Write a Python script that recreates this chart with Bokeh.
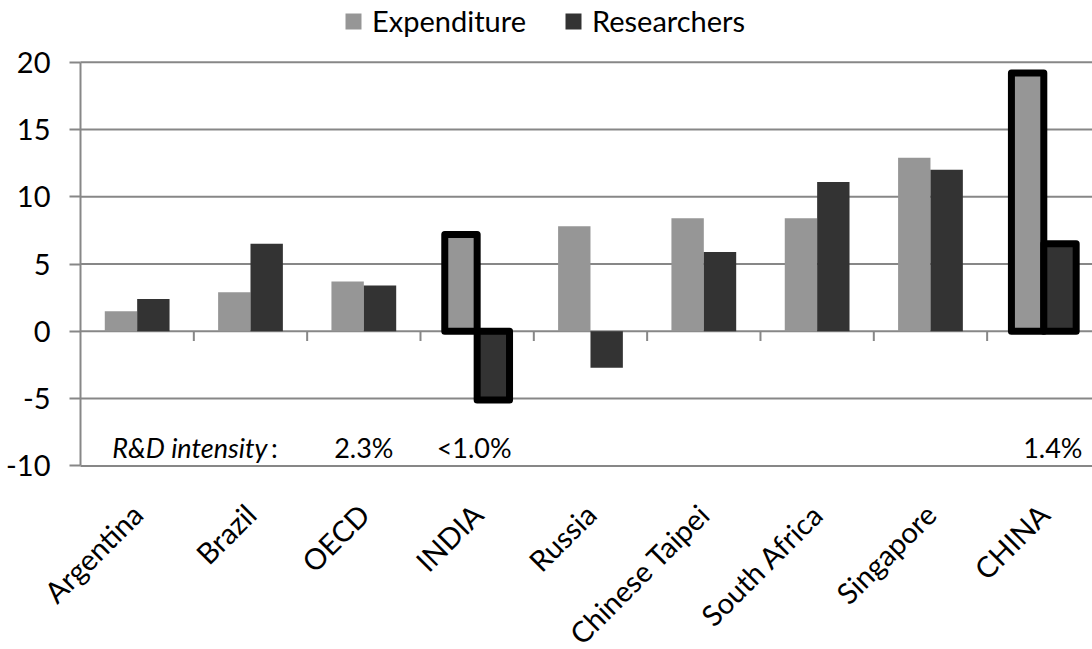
import numpy as np
from bokeh.plotting import figure
from bokeh.models import ColumnDataSource, Range1d, FixedTicker, Legend, LegendItem
from bokeh.core.properties import value
from bokeh.embed import file_html
from bokeh.resources import INLINE

# Growth figures per economy (percent)
categories = ["Argentina", "Brazil", "OECD", "INDIA", "Russia",
              "Chinese Taipei", "South Africa", "Singapore", "CHINA"]
expenditure = [1.5, 2.9, 3.7, 7.2, 7.8, 8.4, 8.4, 12.9, 19.2]
researchers = [2.4, 6.5, 3.4, -5.1, -2.7, 5.9, 11.1, 12.0, 6.5]
highlighted = ["INDIA", "CHINA"]
intensity_cats = ["OECD", "INDIA", "CHINA"]
intensity_vals = ["2.3%", "<1.0%", "1.4%"]
y_ticks = [-10, -5, 0, 5, 10, 15, 20]

FONT = "Lato"
GRID = "#878787"
EXP_COLOR = "#969696"
RES_COLOR = "#333333"

n = len(categories)
centers = np.arange(n) + 0.5
bar_w = 2 / 7  # 150% gap width

src = ColumnDataSource(dict(
    cat=categories,
    x_exp=centers - bar_w / 2,
    x_res=centers + bar_w / 2,
    exp=expenditure,
    res=researchers,
))
hi = [i for i, c in enumerate(categories) if c in highlighted]
hl = ColumnDataSource(dict(
    x_exp=[centers[i] - bar_w / 2 for i in hi],
    x_res=[centers[i] + bar_w / 2 for i in hi],
    exp=[expenditure[i] for i in hi],
    res=[researchers[i] for i in hi],
))

# The frame covers the whole canvas; both axes are pinned at fixed data
# locations so that labels, legend and notes share the same space.
p = figure(width=1092, height=649, output_backend="svg", toolbar_location=None,
           x_range=Range1d(-0.7059, 8.9297), y_range=Range1d(-23.64, 24.58),
           min_border_left=0, min_border_right=0,
           min_border_top=0, min_border_bottom=0)
p.outline_line_color = None
p.background_fill_color = "white"
p.border_fill_color = "white"
p.xgrid.grid_line_color = None
p.ygrid.grid_line_color = None

# horizontal gridlines across the category span
p.segment(x0=[0] * len(y_ticks), x1=[n] * len(y_ticks), y0=y_ticks, y1=y_ticks,
          line_color=GRID, line_width=2)

# value axis (plain hyphen for negatives)
p.yaxis.fixed_location = 0
p.yaxis.ticker = FixedTicker(ticks=y_ticks)
p.yaxis.bounds = (min(y_ticks), max(y_ticks))
p.yaxis.major_label_overrides = {t: str(t) for t in y_ticks}
p.yaxis.axis_line_color = GRID
p.yaxis.axis_line_width = 2
p.yaxis.major_tick_out = 11
p.yaxis.major_tick_in = 0
p.yaxis.major_tick_line_color = GRID
p.yaxis.major_tick_line_width = 2
p.yaxis.minor_tick_line_color = None
p.yaxis.major_label_text_font = FONT
p.yaxis.major_label_text_font_size = "29px"
p.yaxis.major_label_text_color = "black"
p.yaxis.major_label_standoff = 19

# category axis, labels rotated under the chart
p.xaxis.fixed_location = min(y_ticks)
p.xaxis.ticker = FixedTicker(ticks=list(centers))
p.xaxis.major_label_overrides = {float(c): cat for c, cat in zip(centers, categories)}
p.xaxis.major_label_orientation = np.pi / 4
p.xaxis.axis_line_color = None
p.xaxis.major_tick_line_color = None
p.xaxis.minor_tick_line_color = None
p.xaxis.major_label_text_font = FONT
p.xaxis.major_label_text_font_size = "29px"
p.xaxis.major_label_text_color = "black"
p.xaxis.major_label_standoff = 37

# category separators on the zero line
bounds = np.arange(1, n)
p.segment(x0=bounds, x1=bounds, y0=[0] * len(bounds), y1=[-0.72] * len(bounds),
          line_color=GRID, line_width=2)

r_exp = p.vbar(x="x_exp", top="exp", bottom=0, width=bar_w, source=src,
               fill_color=EXP_COLOR, line_color=None)
p.vbar(x="x_exp", top="exp", bottom=0, width=bar_w, source=hl,
       fill_color=EXP_COLOR, line_color="black", line_width=7, line_join="round")
r_res = p.vbar(x="x_res", top="res", bottom=0, width=bar_w, source=src,
               fill_color=RES_COLOR, line_color=None)
p.vbar(x="x_res", top="res", bottom=0, width=bar_w, source=hl,
       fill_color=RES_COLOR, line_color="black", line_width=7, line_join="round")

# R&D intensity annotations
p.text(x=[0.28], y=[-8.61], text=["R&D intensity"], text_font=value(FONT),
       text_font_style="italic", text_font_size="27px", text_color="black",
       text_align="left", text_baseline="alphabetic")
p.text(x=[1.68], y=[-8.61], text=[":"], text_font=value(FONT),
       text_font_size="27px", text_color="black",
       text_align="left", text_baseline="alphabetic")
ix = [categories.index(c) for c in intensity_cats]
p.text(x=[centers[i] for i in ix], y=[-8.61] * len(ix), text=intensity_vals,
       x_offset=[0, -3, 9], text_font=value(FONT), text_font_size="27px",
       text_color="black", text_align="center", text_baseline="alphabetic")

# legend across the top; location is its bottom-left corner in frame pixels
legend = Legend(items=[LegendItem(label="Expenditure", renderers=[r_exp]),
                       LegendItem(label="Researchers", renderers=[r_res])],
                orientation="horizontal", location=(343, 611),
                label_text_font=FONT, label_text_font_size="29px",
                label_text_color="black",
                glyph_width=20, glyph_height=20, label_standoff=9,
                spacing=37, padding=0, margin=0,
                border_line_color=None, background_fill_alpha=0)
p.add_layout(legend)

open("out.html", "w").write(file_html(p, INLINE))
